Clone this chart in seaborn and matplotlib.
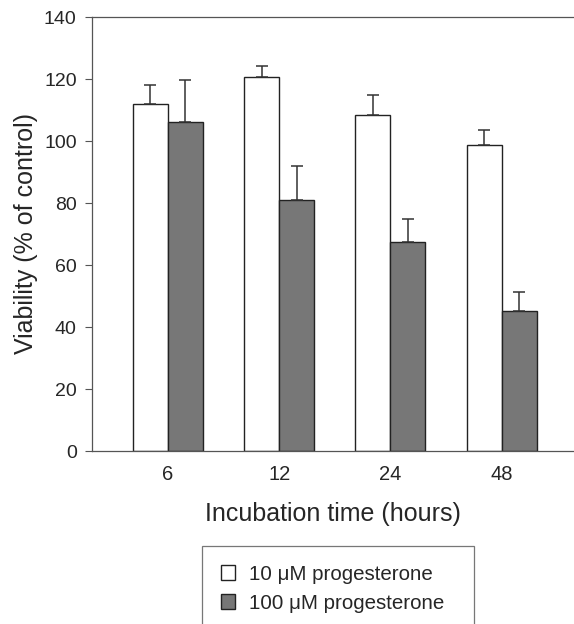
import numpy as np
import pandas as pd
import matplotlib
matplotlib.use('Agg')
import matplotlib.pyplot as plt
import seaborn as sns

sns.set_style('white')
plt.rcParams['font.family'] = ['Liberation Sans', 'DejaVu Sans']

# 数据
hours = ['6', '12', '24', '48']
groups = ['10 \u03bcM progesterone', '100 \u03bcM progesterone']
mean_10 = [111.9, 120.6, 108.4, 98.7]
err_10 = [6.2, 3.6, 6.5, 4.8]
mean_100 = [106.0, 81.0, 67.4, 45.2]
err_100 = [13.6, 11.0, 7.6, 6.1]

df = pd.DataFrame({
    'hours': hours * 2,
    'group': [groups[0]] * 4 + [groups[1]] * 4,
    'viability': mean_10 + mean_100,
})

fig = plt.figure(figsize=(5.74, 6.24), dpi=100)
ax = fig.add_axes([92 / 574, 1 - 451 / 624, 1 - 92 / 574, (451 - 17) / 624])

sns.barplot(data=df, x='hours', y='viability', hue='group', order=hours,
            hue_order=groups, palette=['white', '#777777'], width=0.63,
            edgecolor='#222222', linewidth=1.0, errorbar=None, ax=ax)

# 单侧误差棒
errs = err_10 + err_100
vals = mean_10 + mean_100
bars = [p for p in ax.patches if p.get_height() > 0][:8]
for p, v, e in zip(bars, vals, errs):
    xc = p.get_x() + p.get_width() / 2
    ax.errorbar(xc, v, yerr=[[0], [e]], fmt='none', ecolor='#333333',
                elinewidth=1.1, capsize=4.5, capthick=1.1)

ax.set_ylim(0, 140)
ax.set_xlim(-0.683, 3.65)
ax.set_yticks(range(0, 141, 20))
ax.tick_params(axis='y', direction='out', length=5, width=0.8, color='#555555',
               labelsize=14, pad=6, left=True)
ax.tick_params(axis='x', length=0, labelsize=14.5, pad=10)

for s in ['left', 'top', 'bottom']:
    ax.spines[s].set_color('#555555')
    ax.spines[s].set_linewidth(0.9)
ax.spines['right'].set_visible(False)

ax.set_xlabel('Incubation time (hours)', fontsize=18, labelpad=13)
ax.set_ylabel('Viability (% of control)', fontsize=18, labelpad=4)

ax.get_legend().remove()
handles, labels = ax.get_legend_handles_labels()
leg = fig.legend(handles[:2], labels[:2], loc='upper left', mode='expand',
                 bbox_to_anchor=(202 / 574, 1 - 546 / 624, 272 / 574, 0),
                 fontsize=14.8, frameon=True, fancybox=False, edgecolor='#555555',
                 handlelength=0.7, handleheight=0.7, handletextpad=0.7,
                 borderpad=0.9, labelspacing=0.5, borderaxespad=0)
leg.get_frame().set_linewidth(0.9)

fig.savefig('out.png', dpi=100)
